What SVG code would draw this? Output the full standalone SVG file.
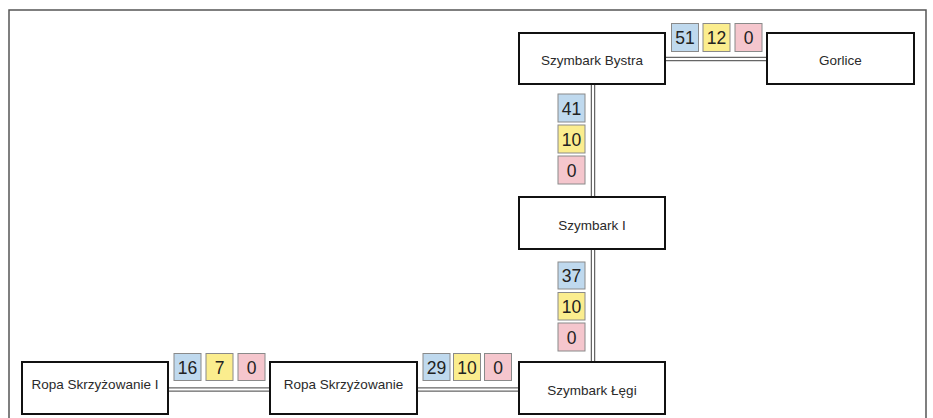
<svg xmlns="http://www.w3.org/2000/svg" width="933" height="418" viewBox="0 0 933 418">
<style>
.frame{fill:none;stroke:#555;stroke-width:1.5}
.node rect{fill:#fff;stroke:#111;stroke-width:2}
.node text{font-family:"Liberation Sans",Arial,sans-serif;font-size:13.5px;fill:#2a2a2a;text-anchor:middle;dominant-baseline:central}
.outer{fill:none;stroke:#666;stroke-width:4.5}
.inner{fill:none;stroke:#fff;stroke-width:2}
.b rect{stroke:#8a8a8a;stroke-width:1}
.b text{font-family:"Liberation Sans",Arial,sans-serif;font-size:17.5px;fill:#222;text-anchor:middle;dominant-baseline:central}
.blue{fill:#bfd9ee}
.yel{fill:#fbed8e}
.pink{fill:#f5c6cd}
</style>
<rect width="933" height="418" fill="#fff"/>
<rect class="frame" x="9" y="10" width="917" height="420"/>
<g id="connectors">
<path class="outer" d="M665 59H767M593 84V197M593 249V362M168 389.5H270M417 389.5H519"/>
<path class="inner" d="M665 59H767M593 84V197M593 249V362M168 389.5H270M417 389.5H519"/>
</g>
<g id="badges" class="b">
<rect class="blue" x="671.5" y="23.5" width="27" height="28"/><text x="685" y="38">51</text>
<rect class="yel" x="703" y="23.5" width="27" height="28"/><text x="716.5" y="38">12</text>
<rect class="pink" x="735" y="23.5" width="27" height="28"/><text x="748.5" y="38">0</text>
<rect class="blue" x="558" y="94" width="27" height="28"/><text x="571.5" y="108.5">41</text>
<rect class="yel" x="558" y="125" width="27" height="28"/><text x="571.5" y="139.5">10</text>
<rect class="pink" x="558" y="156" width="27" height="28"/><text x="571.5" y="170.5">0</text>
<rect class="blue" x="558" y="262" width="27" height="27"/><text x="571.5" y="276">37</text>
<rect class="yel" x="558" y="292.5" width="27" height="27.5"/><text x="571.5" y="306.5">10</text>
<rect class="pink" x="558" y="323" width="27" height="28"/><text x="571.5" y="337.5">0</text>
<rect class="blue" x="174" y="353.5" width="27" height="27"/><text x="187.5" y="367.5">16</text>
<rect class="yel" x="206" y="353.5" width="27" height="27"/><text x="219.5" y="367.5">7</text>
<rect class="pink" x="238" y="353.5" width="27" height="27"/><text x="251.5" y="367.5">0</text>
<rect class="blue" x="423" y="353.5" width="27" height="27"/><text x="436.5" y="367.5">29</text>
<rect class="yel" x="453.5" y="353.5" width="27" height="27"/><text x="467" y="367.5">10</text>
<rect class="pink" x="484.5" y="353.5" width="27" height="27"/><text x="498" y="367.5">0</text>
</g>
<g id="szymbark-bystra" class="node"><rect x="519" y="33" width="146" height="51"/><text x="592" y="60">Szymbark Bystra</text></g>
<g id="gorlice" class="node"><rect x="767" y="33" width="147" height="51"/><text x="840.5" y="60">Gorlice</text></g>
<g id="szymbark-i" class="node"><rect x="519" y="197" width="146" height="52"/><text x="592" y="225">Szymbark I</text></g>
<g id="szymbark-legi" class="node"><rect x="519" y="362" width="146" height="52"/><text x="592" y="390">Szymbark Łęgi</text></g>
<g id="ropa-skrzyzowanie-i" class="node"><rect x="22" y="362" width="146" height="52"/><text x="95" y="384">Ropa Skrzyżowanie I</text></g>
<g id="ropa-skrzyzowanie" class="node"><rect x="270" y="362" width="147" height="52"/><text x="343.5" y="384">Ropa Skrzyżowanie</text></g>
</svg>
